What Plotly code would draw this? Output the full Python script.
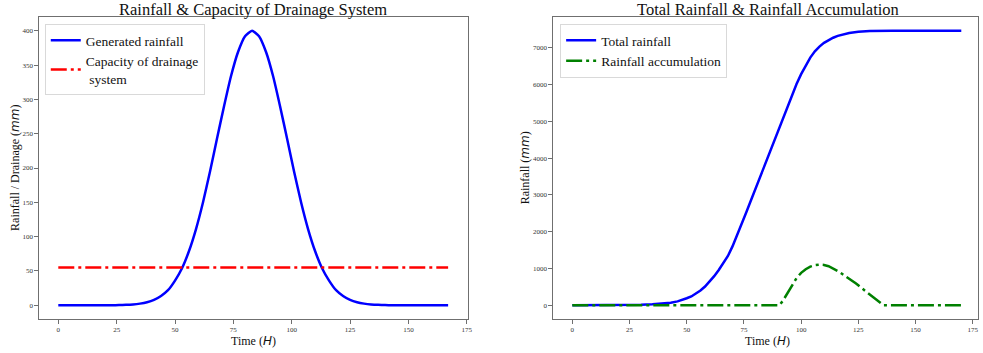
import plotly.graph_objects as go

# ---- data ----
rain_hours = [0, 2, 5, 8, 11, 14, 17, 20, 23, 26, 29, 32, 35, 38, 41, 44, 47, 50, 53, 56, 59, 62,
              65, 68, 71, 74, 77, 80, 83, 86, 89, 92, 95, 98, 101, 104, 107, 110, 113, 116,
              119, 122, 125, 128, 131, 134, 137, 140, 143, 146, 149, 152, 155, 158, 161, 164, 167]
generated_rainfall = [0, 0, 0, 0, 0, 0, 0, 0, 0.1, 0.3, 0.6, 1.2, 2.4, 4.4, 7.9, 13.6, 22, 36, 54, 79,
                      111, 150, 195, 243, 290, 334, 369, 392, 400, 392, 369, 334, 290, 243, 195,
                      150, 111, 79, 54, 36, 22, 13.6, 7.9, 4.4, 2.4, 1.2, 0.6, 0.3, 0.1, 0, 0, 0,
                      0, 0, 0, 0, 0]
drainage_capacity = [55] * len(rain_hours)

total_hours = [0, 10, 20, 25, 30, 35, 40, 43, 46, 48, 50, 52, 54, 56, 58, 60, 62, 64, 66, 68, 70,
               72, 74, 76, 78, 80, 82, 84, 86, 88, 90, 92, 94, 96, 98, 100, 102, 104, 106, 108,
               110, 112, 114, 116, 118, 121, 125, 130, 140, 150, 170]
total_rainfall = [0, 1, 3, 6, 12, 25, 48, 70, 105, 140, 190, 240, 310, 400, 510, 640, 790, 960,
                  1140, 1340, 1600, 1890, 2200, 2520, 2840, 3160, 3480, 3800, 4130, 4460, 4780,
                  5080, 5400, 5730, 6010, 6280, 6520, 6730, 6900, 7030, 7130, 7210, 7270, 7320,
                  7360, 7400, 7435, 7452, 7458, 7460, 7460]

acc_hours = [0, 90.5, 92, 94, 96, 98, 100, 102, 104, 106, 108, 110, 112, 114, 116, 118, 120, 122,
             124, 126, 128, 130, 132, 134, 136, 170]
rain_accumulation = [0, 0, 120, 330, 560, 740, 880, 980, 1050, 1090, 1105, 1095, 1060, 1000, 930,
                     850, 770, 680, 590, 490, 390, 290, 190, 90, 0, 0]

x_ticks = [0, 25, 50, 75, 100, 125, 150, 175]
left_y_ticks = [0, 50, 100, 150, 200, 250, 300, 350, 400]
right_y_ticks = [0, 1000, 2000, 3000, 4000, 5000, 6000, 7000]

# ---- layout constants ----
W, H = 983, 353
FONT = "Liberation Serif"
AX_COL = "#6f6f6f"
y_dom = [(H - 319) / H, (H - 17) / H]
xl_dom = [39 / W, 470 / W]
xr_dom = [555.7 / W, 1.0]
DASHDOT = "16px,4px,3px,4px"

fig = go.Figure()
fig.add_trace(go.Scatter(x=rain_hours, y=generated_rainfall, mode="lines", name="Generated rainfall",
                         line=dict(color="#0000ff", width=2.5, shape="spline", smoothing=0.5),
                         xaxis="x", yaxis="y", legend="legend"))
fig.add_trace(go.Scatter(x=rain_hours, y=drainage_capacity, mode="lines",
                         name="Capacity of drainage<br> system",
                         line=dict(color="#ff0000", width=2.5, dash=DASHDOT),
                         xaxis="x", yaxis="y", legend="legend"))
fig.add_trace(go.Scatter(x=total_hours, y=total_rainfall, mode="lines", name="Total rainfall",
                         line=dict(color="#0000ff", width=2.5),
                         xaxis="x2", yaxis="y2", legend="legend2"))
fig.add_trace(go.Scatter(x=acc_hours, y=rain_accumulation, mode="lines", name="Rainfall accumulation",
                         line=dict(color="#008000", width=2.5, dash=DASHDOT),
                         xaxis="x2", yaxis="y2", legend="legend2"))

axis_common = dict(showgrid=False, zeroline=False, showline=True, linecolor=AX_COL, linewidth=1,
                   mirror=True, ticks="outside", ticklen=3.5, tickcolor=AX_COL, tickwidth=0.8,
                   tickfont=dict(family=FONT, size=7, color="#333"))

mm = '<span style="font-family:DejaVu Sans"><i>mm</i></span>'
hh = '<span style="font-family:DejaVu Sans"><i>H</i></span>'


def label(text, x, y, size, angle=0):
    return dict(text=text, x=x / W, y=(H - y) / H, xref="paper", yref="paper",
                xanchor="center", yanchor="middle", showarrow=False, textangle=angle,
                font=dict(family=FONT, size=size, color="#111"))


legend_common = dict(xanchor="left", yanchor="top", bgcolor="rgba(255,255,255,0.8)",
                     bordercolor="#d9d9d9", borderwidth=1,
                     font=dict(family=FONT, size=13.5, color="#111"), tracegroupgap=0,
                     itemwidth=30)

fig.update_layout(
    width=W, height=H, margin=dict(l=0, r=0, t=0, b=0),
    paper_bgcolor="white", plot_bgcolor="white",
    font=dict(family=FONT, color="#111"),
    xaxis=dict(domain=xl_dom, range=[-8.35, 175.35], tickvals=x_ticks, anchor="y", **axis_common),
    yaxis=dict(domain=y_dom, range=[-20, 420], tickvals=left_y_ticks, anchor="x", **axis_common),
    xaxis2=dict(domain=xr_dom, range=[-8.5, 177.3], tickvals=x_ticks, anchor="y2", **axis_common),
    yaxis2=dict(domain=y_dom, range=[-373, 7833], tickvals=right_y_ticks, anchor="x2", **axis_common),
    legend=dict(x=45 / W, y=(H - 24) / H, **legend_common),
    legend2=dict(x=563 / W, y=(H - 24) / H, **legend_common),
    annotations=[
        label("Rainfall &amp; Capacity of Drainage System", 254.5, 10, 16.5),
        label("Total Rainfall &amp; Rainfall Accumulation", 771.5, 10, 16.5),
        label(f"Time ({hh})", 254.5, 341, 12),
        label(f"Time ({hh})", 771.5, 341, 12),
        label(f"Rainfall / Drainage ({mm})", 15, 168, 12, -90),
        label(f"Rainfall ({mm})", 528, 168, 12, -90),
    ],
)

fig.write_html("out.html", config={"displayModeBar": False},
               post_script="document.body.style.margin='0';document.body.style.overflow='hidden';")
